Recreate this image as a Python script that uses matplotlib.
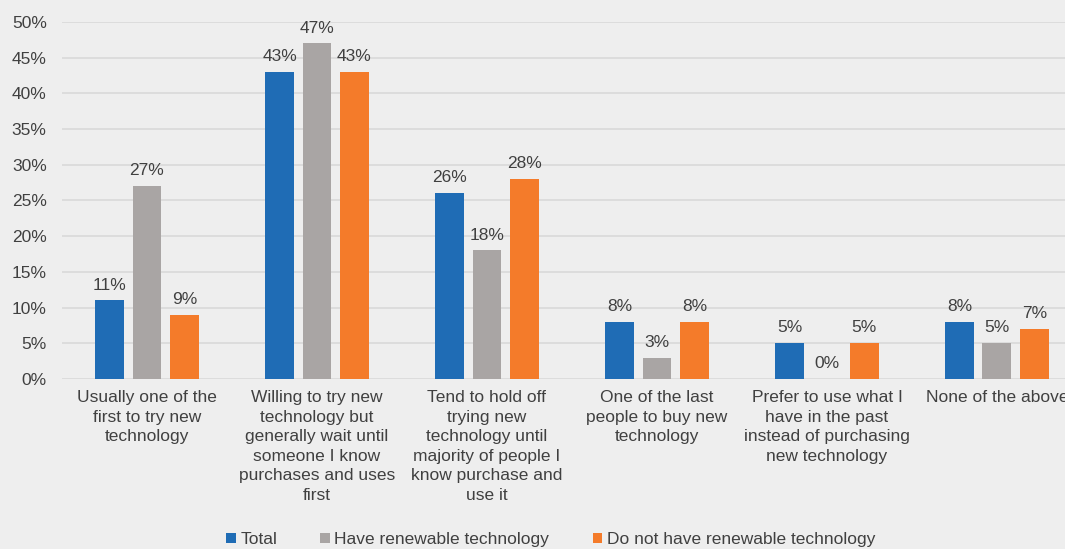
import numpy as np
import matplotlib.pyplot as plt

plt.rcParams['font.family'] = ['Liberation Sans', 'DejaVu Sans']

categories = [
    "Usually one of the\nfirst to try new\ntechnology",
    "Willing to try new\ntechnology but\ngenerally wait until\nsomeone I know\npurchases and uses\nfirst",
    "Tend to hold off\ntrying new\ntechnology until\nmajority of people I\nknow purchase and\nuse it",
    "One of the last\npeople to buy new\ntechnology",
    "Prefer to use what I\nhave in the past\ninstead of purchasing\nnew technology",
    "None of the above",
]
series_names = ["Total", "Have renewable technology", "Do not have renewable technology"]
total = [11, 43, 26, 8, 5, 8]
have_renewable = [27, 47, 18, 3, 0, 5]
no_renewable = [9, 43, 28, 8, 5, 7]

colors = ['#1F6CB5', '#A9A5A4', '#F47B2A']
bg = '#EEEEEE'
text_color = '#404040'
fs = 12.5

fig = plt.figure(figsize=(10.65, 5.49), dpi=100, facecolor=bg)
ax = fig.add_axes([0.0582, 0.3097, 0.9577, 0.6503], facecolor=bg)

x = np.arange(len(categories))
width = 0.17
offset = 0.22
for i, (vals, name) in enumerate(zip([total, have_renewable, no_renewable], series_names)):
    vals = np.array(vals) / 100
    bars = ax.bar(x + (i - 1) * offset, vals, width, color=colors[i], label=name, zorder=3)
    for b, v in zip(bars, vals):
        ax.text(b.get_x() + b.get_width() / 2, v + 0.011, f"{v*100:.0f}%",
                ha='center', va='bottom', fontsize=fs, color=text_color)

ax.set_xlim(-0.5, len(categories) - 0.5)
ax.set_ylim(0, 0.5)
ax.set_yticks(np.arange(0, 0.51, 0.05))
ax.set_yticklabels([f"{t*100:.0f}%" for t in np.arange(0, 0.51, 0.05)])
ax.yaxis.grid(True, color='#D9D9D9', linewidth=1.2, zorder=0)
ax.set_axisbelow(True)
for s in ax.spines.values():
    s.set_visible(False)
ax.tick_params(axis='both', length=0, labelsize=fs, colors=text_color)
ax.tick_params(axis='y', pad=11)
ax.set_xticks(x)
ax.set_xticklabels(categories, linespacing=1.38)
ax.tick_params(axis='x', pad=8)

fig.legend(loc='lower center', bbox_to_anchor=(0.517, -0.025), ncol=3, frameon=False,
           fontsize=fs, labelcolor=text_color, handlelength=0.55, handleheight=0.55,
           handletextpad=0.25, columnspacing=2.5)

fig.savefig('out.png', dpi=100, facecolor=bg)
